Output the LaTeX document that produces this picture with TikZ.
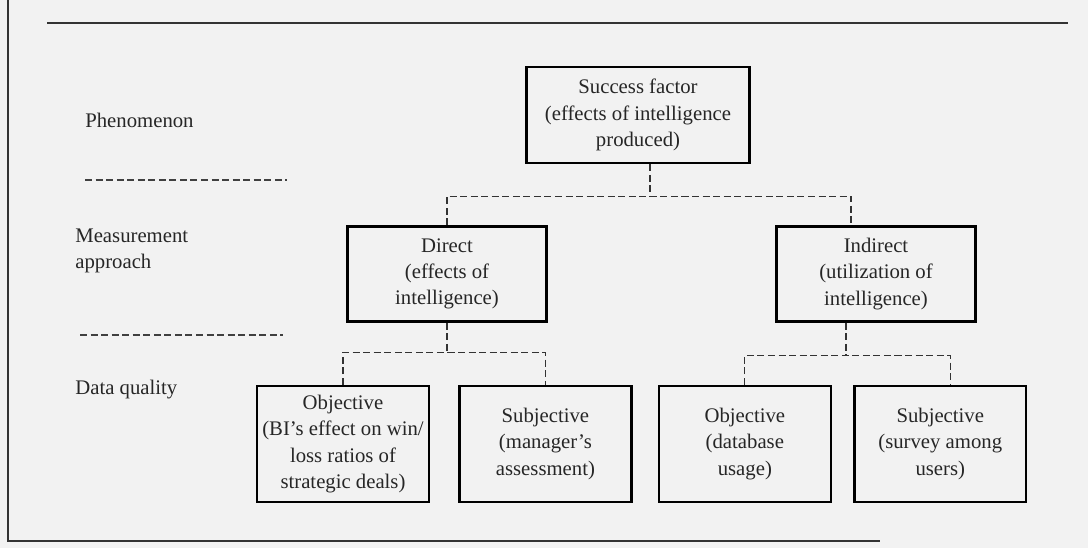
\documentclass[tikz,border=0pt]{standalone}
\usepackage{fontspec}
\setmainfont{Liberation Serif}
\usetikzlibrary{positioning}
\newcommand{\diagfont}{\fontsize{11.8}{15}\selectfont}

\begin{document}
\begin{tikzpicture}[
    x=0.02cm, y=-0.02cm,
    % Boxes of the three levels
    box/.style={
        draw,
        line width=1.4pt,
        rectangle,
        fill=black!5,
        text=black!85,
        font=\diagfont,
        align=center,
        inner sep=2pt
    },
    topbox/.style={box, minimum width=4.46cm, minimum height=1.92cm},
    midbox/.style={box, minimum width=3.98cm, minimum height=1.9cm},
    leafbox/.style={box, minimum width=3.44cm, minimum height=2.32cm},
    rowlbl/.style={anchor=west, align=left, font=\diagfont, text=black!85, inner sep=0pt},
    sep/.style={dash pattern=on 4pt off 2pt, line width=0.7pt, black!75},
    link/.style={dash pattern=on 4pt off 2pt, line width=0.7pt, black!80}
]

    % --- Page ---
    \fill[black!5] (0,0) rectangle (1088,548);
    \useasboundingbox (0,0) rectangle (1088,548);
    \draw[line width=1pt, black!80] (8,0) -- (8,541) -- (880,541);
    \draw[line width=1.4pt, black!80] (47,23) -- (1068,23);

    % --- Row labels ---
    \node[rowlbl] (phen) at (85,120) {Phenomenon};
    \node[rowlbl] (meas) at (75,251) {Measurement\\approach};
    \node[rowlbl] (dq) at (75,390) {Data quality};
    \draw[sep] (85,180) -- (287,180);
    \draw[sep] (80,335) -- (283,335);

    % --- Nodes ---
    \node[topbox] (succ) at (638,115) {Success factor\\(effects of intelligence\\produced)};
    \node[midbox] (direct) at (447,274) {Direct\\(effects of\\intelligence)};
    \node[midbox] (indirect) at (876,274) {Indirect\\(utilization of\\intelligence)};

    \node[leafbox] (objbi) at (343,444) {Objective\\(BI's effect on win/\\loss ratios of\\strategic deals)};
    \node[leafbox, right=0.56cm of objbi] (subjman) {Subjective\\(manager's\\assessment)};
    \node[leafbox, right=0.5cm of subjman] (objdb) {Objective\\(database\\usage)};
    \node[leafbox, right=0.42cm of objdb] (subjsur) {Subjective\\(survey among\\users)};

    % --- Edges ---
    % Success factor to the two approaches
    \coordinate (fork) at ([xshift=0.24cm, yshift=-0.64cm]succ.south);
    \draw[link] ([xshift=0.24cm]succ.south) -- (fork);
    \draw[link] (direct.north) |- (fork) -| ([xshift=-0.5cm]indirect.north);

    % Direct to its two kinds of data
    \coordinate (dfork) at ([yshift=-0.59cm]direct.south);
    \draw[link] (direct.south) -- (dfork);
    \draw[link] (objbi.north) |- (dfork) -| (subjman.north);

    % Indirect to its two kinds of data
    \coordinate (ifork) at ([xshift=-0.6cm, yshift=-0.65cm]indirect.south);
    \draw[link] ([xshift=-0.6cm]indirect.south) -- (ifork);
    \draw[link] (objdb.north) |- (ifork) -| ([xshift=0.2cm]subjsur.north);

\end{tikzpicture}
\end{document}
